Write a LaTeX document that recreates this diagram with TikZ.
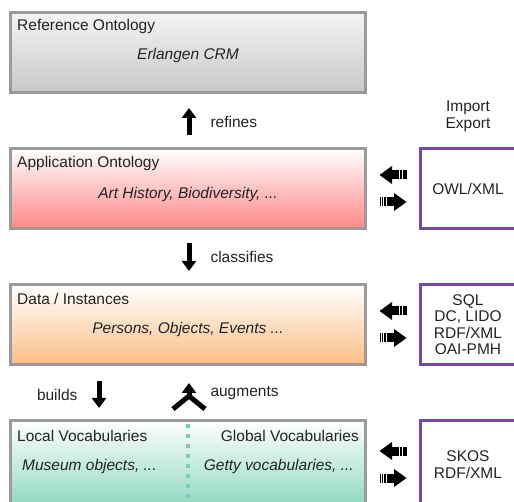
\documentclass[tikz,border=0pt]{standalone}
\usepackage{fontspec}
\setmainfont{Liberation Sans}
\usetikzlibrary{positioning, calc, arrows.meta}

\definecolor{frame}{RGB}{155,155,155}
\definecolor{iopurple}{RGB}{118,72,160}
\definecolor{txt}{RGB}{35,35,35}
\definecolor{reftop}{RGB}{244,244,244}
\definecolor{refbot}{RGB}{200,200,200}
\definecolor{appbot}{RGB}{255,135,135}
\definecolor{databot}{RGB}{250,190,135}
\definecolor{vocbot}{RGB}{140,215,193}
\definecolor{dots}{RGB}{120,206,182}

\begin{document}
\begin{tikzpicture}[x=1pt, y=1pt, node distance=53pt, auto]
	\tikzstyle{layer} = [draw=frame, line width=3pt, minimum width=355pt, minimum height=80pt]
	\tikzstyle{io} = [draw=iopurple, line width=3pt, minimum width=95pt, minimum height=80pt, align=center, text=txt, font=\fontsize{15.5}{16.5}\selectfont]
	\tikzstyle{title} = [inner sep=0pt, text=txt, font=\fontsize{15.5}{17}\selectfont]
	\tikzstyle{detail} = [inner sep=0pt, text=txt, font=\fontsize{15.5}{17}\selectfont\itshape]
	\tikzstyle{lbl} = [inner sep=0pt, text=txt, font=\fontsize{15.5}{17}\selectfont]
	\tikzstyle{bigarrow} = [line width=5pt, -{Triangle[width=14pt,length=10pt]}]

	\path[use as bounding box] (0,0) rectangle (514,-502);
	\clip (0,0) rectangle (514,-502);

	% layers
	\node[layer, top color=reftop, bottom color=refbot] at (188,-52.5) (ref) {};
	\node[layer, top color=white, bottom color=appbot, below=of ref] (app) {};
	\node[layer, top color=white, bottom color=databot, below=of app] (data) {};
	\node[layer, top color=white, bottom color=vocbot, minimum height=88pt, below=of data] (vocab) {};

	\node[title, anchor=west] at ([xshift=8pt,yshift=-15pt]ref.north west) (reftitle) {Reference Ontology};
	\node[detail] at ([yshift=-44pt]ref.north) (refdetail) {Erlangen CRM};
	\node[title, anchor=west] at ([xshift=8pt,yshift=-16.5pt]app.north west) (apptitle) {Application Ontology};
	\node[detail] at ([yshift=-47.5pt]app.north) (appdetail) {Art History, Biodiversity, ...};
	\node[title, anchor=west] at ([xshift=8pt,yshift=-15.5pt]data.north west) (datatitle) {Data / Instances};
	\node[detail] at ([yshift=-46pt]data.north) (datadetail) {Persons, Objects, Events ...};

	\draw[dots, line width=4pt, dash pattern=on 4pt off 6pt] ([yshift=-5pt]vocab.north) -- (vocab.south);
	\node[title, anchor=west] at ([xshift=8pt,yshift=-16.5pt]vocab.north west) (localtitle) {Local Vocabularies};
	\node[title, anchor=east] at ([xshift=-8pt,yshift=-16.5pt]vocab.north east) (globaltitle) {Global Vocabularies};
	\node[detail, anchor=west] at ([xshift=13pt,yshift=-47pt]vocab.north west) (localdetail) {Museum objects, ...};
	\node[detail, anchor=east] at ([xshift=-13pt,yshift=-47pt]vocab.north east) (globaldetail) {Getty vocabularies, ...};

	% import / export
	\node[io, right=52pt of app] (owl) {OWL/XML};
	\node[io, right=52pt of data] (sql) {SQL\\DC, LIDO\\RDF/XML\\OAI-PMH};
	\node[io, minimum height=88pt, right=52pt of vocab] (skos) {SKOS\\RDF/XML};
	\node[lbl, align=center] at ([yshift=30.5pt]owl.north) (iohead) {Import\\Export};

	\foreach \lay/\io in {app/owl, data/sql, vocab/skos}{
		\coordinate (\lay-mid) at ($(\lay.east)!0.5!(\io.west)$);
		\begin{scope}[shift={(\lay-mid)}]
			\fill (-13.5,13.5) -- (-1,22.5) -- (-1,4.5) -- cycle;
			\fill (-1.5,9) rectangle (6,18);
			\fill (13.5,-13.5) -- (1,-4.5) -- (1,-22.5) -- cycle;
			\fill (1.5,-9) rectangle (-6,-18);
			\foreach \a/\b in {7/9, 9.8/11.5, 12.3/13.5}{
				\fill (\a,9) rectangle (\b,18);
				\fill (-\a,-9) rectangle (-\b,-18);
			}
		\end{scope}
	}

	% relations between layers
	\draw[bigarrow] ([xshift=1pt,yshift=12pt]app.north) -- node[lbl, right=19pt] (refineslbl) {refines} ([xshift=1pt,yshift=-14pt]ref.south);
	\draw[bigarrow] ([xshift=1pt,yshift=-13pt]app.south) -- node[lbl, right=19pt] (classifieslbl) {classifies} ([xshift=1pt,yshift=12pt]data.north);
	\draw[bigarrow] ([xshift=-89pt,yshift=-15pt]data.south) -- node[lbl, left=19pt] (buildslbl) {builds} ([xshift=-89pt,yshift=11pt]vocab.north);

	\coordinate (augjoin) at ([xshift=1pt,yshift=23pt]vocab.north);
	\draw[line width=5pt] ([xshift=-15pt,yshift=10pt]vocab.north) -- (augjoin) -- ([xshift=17pt,yshift=10pt]vocab.north);
	\draw[bigarrow] (augjoin) -- node[lbl, right=19pt, yshift=-4pt] (augmentslbl) {augments} ([xshift=1pt,yshift=-17pt]data.south);
\end{tikzpicture}
\end{document}
